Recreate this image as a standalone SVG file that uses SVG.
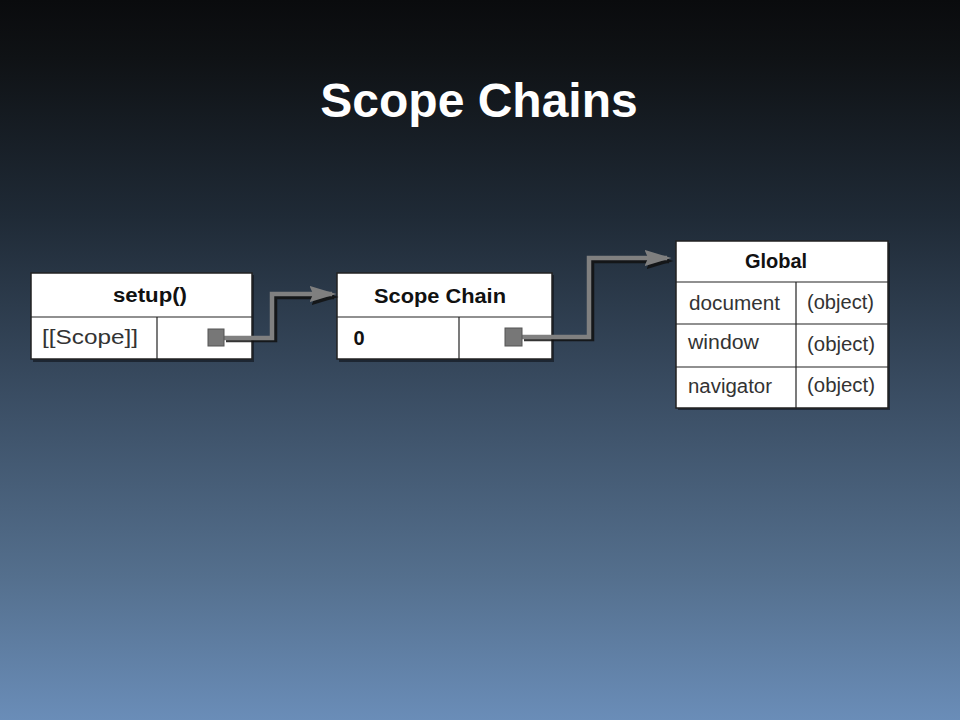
<svg xmlns="http://www.w3.org/2000/svg" width="960" height="720" viewBox="0 0 960 720">
<defs>
<linearGradient id="bg" x1="0" y1="0" x2="0" y2="1">
<stop offset="0" stop-color="#0a0b0d"/>
<stop offset="0.08" stop-color="#0f1215"/>
<stop offset="0.3" stop-color="#1f2a36"/>
<stop offset="0.55" stop-color="#3a4d63"/>
<stop offset="0.8" stop-color="#546f8d"/>
<stop offset="1" stop-color="#6a8db8"/>
</linearGradient>
<marker id="ah" markerWidth="6" markerHeight="3.6" refX="5" refY="1.8" orient="auto" markerUnits="strokeWidth">
<path d="M0,0 L6,1.8 L0,3.6 L0.8,1.8 Z" fill="#7f7f7f"/>
</marker>
<marker id="ahs" markerWidth="6" markerHeight="3.6" refX="5" refY="1.8" orient="auto" markerUnits="strokeWidth">
<path d="M0,0 L6,1.8 L0,3.6 L0.8,1.8 Z" fill="#111"/>
</marker>
</defs>
<style>
.box{fill:#fff;stroke:#222;stroke-width:1.5}
.shadow{fill:#0d1117;opacity:0.6}
.ln{stroke:#222;stroke-width:1.2;fill:none}
.hd{font-family:"Liberation Sans",Arial,sans-serif;font-weight:bold;fill:#111;text-anchor:middle}
.tx{font-family:"Liberation Sans",Arial,sans-serif;fill:#333}
.wire{fill:none;stroke:#808080;stroke-width:4.5;stroke-linejoin:miter}
.wires{fill:none;stroke:#111;stroke-width:4.5;opacity:0.85}
.sq{fill:#777;stroke:#555;stroke-width:1}
</style>
<rect width="960" height="720" fill="url(#bg)"/>
<text x="479" y="117" font-family="Liberation Sans,Arial,sans-serif" font-weight="bold" font-size="48" fill="#fff" text-anchor="middle">Scope Chains</text>

<g id="setup">
<rect class="shadow" x="33" y="275" width="221" height="87"/>
<rect class="box" x="31" y="273" width="221" height="86"/>
<line class="ln" x1="31" y1="317" x2="252" y2="317"/>
<line class="ln" x1="157" y1="317" x2="157" y2="359"/>
<text class="hd" x="150" y="302" font-size="20" textLength="74" lengthAdjust="spacingAndGlyphs">setup()</text>
<text class="tx" x="90" y="344" font-size="20" text-anchor="middle" textLength="96" lengthAdjust="spacingAndGlyphs">[[Scope]]</text>
</g>

<g id="scopechain">
<rect class="shadow" x="339" y="275" width="215" height="87"/>
<rect class="box" x="337" y="273" width="215" height="86"/>
<line class="ln" x1="337" y1="317" x2="552" y2="317"/>
<line class="ln" x1="459" y1="317" x2="459" y2="359"/>
<text class="hd" x="440" y="303" font-size="20" textLength="132" lengthAdjust="spacingAndGlyphs">Scope Chain</text>
<text class="hd" x="359" y="345" font-size="20">0</text>
</g>

<g id="global">
<rect class="shadow" x="678" y="243" width="212" height="167"/>
<rect class="box" x="676" y="241" width="212" height="167"/>
<line class="ln" x1="676" y1="282" x2="888" y2="282"/>
<line class="ln" x1="676" y1="324" x2="888" y2="324"/>
<line class="ln" x1="676" y1="367" x2="888" y2="367"/>
<line class="ln" x1="796" y1="282" x2="796" y2="408"/>
<text class="hd" x="776" y="268" font-size="20">Global</text>
<text class="tx" x="689" y="310" font-size="20" textLength="91" lengthAdjust="spacingAndGlyphs">document</text>
<text class="tx" x="807" y="309" font-size="20" textLength="67" lengthAdjust="spacingAndGlyphs">(object)</text>
<text class="tx" x="688" y="349" font-size="20" textLength="71" lengthAdjust="spacingAndGlyphs">window</text>
<text class="tx" x="807" y="351" font-size="20" textLength="68" lengthAdjust="spacingAndGlyphs">(object)</text>
<text class="tx" x="688" y="393" font-size="20" textLength="84" lengthAdjust="spacingAndGlyphs">navigator</text>
<text class="tx" x="807" y="392" font-size="20" textLength="68" lengthAdjust="spacingAndGlyphs">(object)</text>
</g>

<g id="connectors">
<path class="wires" d="M226,340 H275 V297 H334" marker-end="url(#ahs)"/>
<path class="wire" d="M224,338 H272 V294 H332" marker-end="url(#ah)"/>
<rect class="sq" x="208" y="329" width="16" height="17"/>
<path class="wires" d="M524,339 H592 V261 H669" marker-end="url(#ahs)"/>
<path class="wire" d="M522,337 H589 V258 H667" marker-end="url(#ah)"/>
<rect class="sq" x="505" y="328" width="17" height="18"/>
</g>
</svg>
